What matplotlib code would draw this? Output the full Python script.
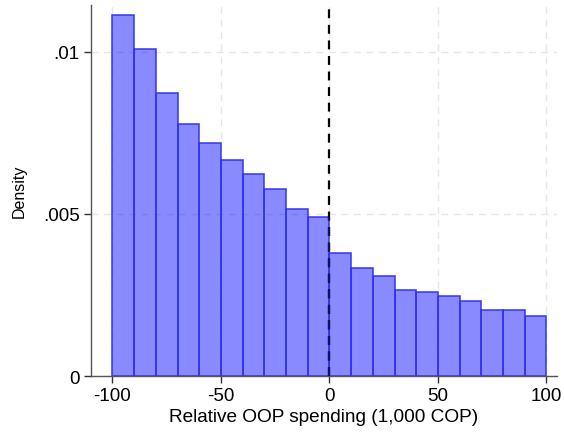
import numpy as np
import matplotlib
matplotlib.use("Agg")
from matplotlib import pyplot as plt

plt.rcParams['font.family'] = ['Liberation Sans', 'DejaVu Sans']
plt.rcParams['axes.unicode_minus'] = False

# Histogram of relative OOP spending, bins of width 10 from -100 to 100
bin_edges = np.arange(-100, 101, 10)
density = [0.01111, 0.01009, 0.00873, 0.00778, 0.00719, 0.00667, 0.00624,
           0.00575, 0.00515, 0.00489, 0.00378, 0.00334, 0.00307, 0.00266,
           0.00260, 0.00246, 0.00233, 0.00203, 0.00203, 0.00184]
x_ticks = [-100, -50, 0, 50, 100]
y_ticks = [0, 0.005, 0.01]
y_labels = ['0', '.005', '.01']
cutoff = 0

fig = plt.figure(figsize=(5.64, 4.35), dpi=100)
ax = fig.add_axes([0.161, 0.133, 0.827, 0.853])

y_top = 0.01143

ax.bar(bin_edges[:-1], density, width=10, align='edge',
       facecolor=(0, 0, 1, 0.46), edgecolor=(0.2, 0.2, 0.94, 0.9),
       linewidth=1.2, zorder=2)

# dashed cutoff line; darker navy where it runs through the bars
dash = (0, (4, 3))
i = np.searchsorted(bin_edges, cutoff)
h_cut = max(density[i - 1], density[i])
ax.plot([cutoff, cutoff], [0, y_top], color='black', linestyle=dash,
        linewidth=1.6, zorder=3, clip_on=False)
ax.plot([cutoff, cutoff], [0, h_cut], color='#10105e', linestyle=dash,
        linewidth=1.6, zorder=4)

ax.set_xlim(-110, 105)
ax.set_ylim(0, y_top)
ax.set_xticks(x_ticks)
ax.set_yticks(y_ticks)
ax.set_yticklabels(y_labels)

ax.grid(True, color='#e6e6e6', linestyle=(0, (5, 4)), linewidth=1.0, zorder=0)
ax.set_axisbelow(True)

for side in ['top', 'right']:
    ax.spines[side].set_visible(False)
for side in ['left', 'bottom']:
    ax.spines[side].set_color('#555555')
    ax.spines[side].set_linewidth(1.0)

ax.tick_params(axis='both', direction='out', length=5, width=1.0,
               color='#333333', labelsize=13.5, pad=3)

ax.set_xlabel('Relative OOP spending (1,000 COP)', fontsize=13.7, labelpad=3)
ax.set_ylabel('Density', fontsize=11.5, labelpad=12)

plt.savefig('out.png', dpi=100)
